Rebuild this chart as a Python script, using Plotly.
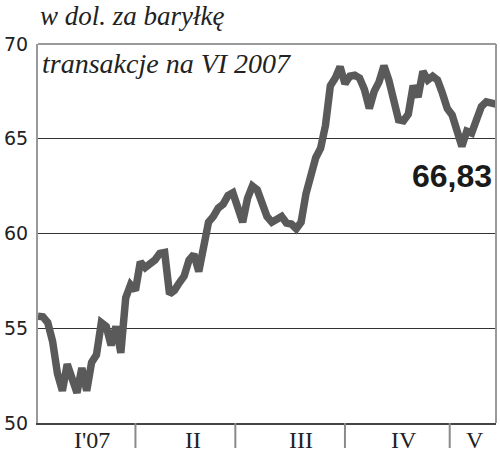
import plotly.graph_objects as go

# trading-session index (one value per session, Jan - mid May 2007)
prices = [
    55.63, 55.6, 55.3, 54.3, 52.6, 51.7, 53.1, 52.3, 51.6, 52.9,
    51.7, 53.2, 53.6, 55.3, 55.1, 54.1, 55.1, 53.7, 56.6, 57.3,
    57.0, 58.5, 58.2, 58.4, 58.6, 58.95, 59.0, 56.8, 57.0, 57.4,
    57.75, 58.6, 58.9, 58.0, 59.3, 60.6, 60.9, 61.35, 61.55, 62.0,
    62.15, 61.5, 60.6, 61.85, 62.5, 62.3, 61.55, 60.9, 60.6, 60.8,
    60.9, 60.55, 60.5, 60.25, 60.6, 62.1, 63.2, 64.0, 64.5, 65.7,
    67.8, 68.2, 68.8, 67.9, 68.3, 68.35, 68.2, 67.6, 66.6, 67.5,
    68.0, 68.85, 68.1, 66.9, 66.0, 65.95, 66.3, 67.8, 67.2, 68.55,
    68.1, 68.3, 68.1, 67.4, 66.6, 66.25, 65.4, 64.6, 65.4, 65.3,
    66.0, 66.7, 66.95, 66.9, 66.83,
]
sessions = list(range(len(prices)))

month_labels = ["I'07", "II", "III", "IV", "V"]
month_label_pos = [11.1, 31.8, 54.0, 75.2, 89.7]
month_boundaries = [20, 40.5, 63, 84.5]

y_ticks = [50, 55, 60, 65, 70]
last_label = "66,83"

W, H = 500, 456
L, R, T, B = 33, 4, 44, 33
pw, ph = W - L - R, H - T - B

def px(p):
    return (p - L) / pw

def py(q):
    return (H - B - q) / ph

fig = go.Figure()
fig.add_trace(go.Scatter(
    x=sessions, y=prices, mode="lines",
    line=dict(color="#5a5a5a", width=7.5),
    hoverinfo="skip", showlegend=False,
))

shapes = []
# month separators below axis
for b in month_boundaries:
    shapes.append(dict(type="line", xref="x", yref="paper", x0=b, x1=b,
                       y0=0, y1=-25 / ph, line=dict(color="#8a8a8a", width=2)))
# frame: top and right borders
shapes.append(dict(type="line", xref="paper", yref="paper", x0=0, x1=1, y0=1, y1=1,
                   line=dict(color="#9a9a9a", width=2), layer="above"))
shapes.append(dict(type="line", xref="paper", yref="paper", x0=1, x1=1, y0=0, y1=1,
                   line=dict(color="#9a9a9a", width=2), layer="above"))

annotations = []
for lab, pos in zip(month_labels, month_label_pos):
    annotations.append(dict(text=lab, x=pos, xref="x", y=py(440), yref="paper",
                            xanchor="center", yanchor="middle", showarrow=False,
                            font=dict(family="Liberation Serif", size=24, color="#222")))
annotations.append(dict(text="<i>w dol. za baryłkę</i>", x=px(33), xref="paper",
                        y=py(16), yref="paper", xanchor="left", yanchor="middle",
                        showarrow=False,
                        font=dict(family="Liberation Serif", size=27, color="#222")))
annotations.append(dict(text="<i>transakcje na VI 2007</i>", x=px(35), xref="paper",
                        y=py(63), yref="paper", xanchor="left", yanchor="middle",
                        showarrow=False,
                        font=dict(family="Liberation Serif", size=28, color="#222")))
annotations.append(dict(text="<b>" + last_label + "</b>", x=px(494), xref="paper",
                        y=py(176), yref="paper", xanchor="right", yanchor="middle",
                        showarrow=False,
                        font=dict(family="Liberation Sans", size=32, color="#1a1a1a")))

fig.update_layout(
    width=W, height=H,
    margin=dict(l=L, r=R, t=T, b=B, pad=0),
    paper_bgcolor="white", plot_bgcolor="white",
    shapes=shapes, annotations=annotations,
    xaxis=dict(range=[0, len(prices) - 1], showgrid=False, zeroline=False,
               showticklabels=False, ticks="", showline=True,
               linecolor="#444", linewidth=2, fixedrange=True),
    yaxis=dict(range=[50, 70], tickvals=y_ticks, showgrid=True,
               gridcolor="#333", gridwidth=1, zeroline=False, ticks="",
               showline=True, linecolor="#9a9a9a", linewidth=2,
               tickfont=dict(family="DejaVu Sans", size=19, color="#222"),
               ticklabelstandoff=4, fixedrange=True),
)

fig.write_html("out.html", config={"displayModeBar": False},
               post_script="document.body.style.margin='0px';")
